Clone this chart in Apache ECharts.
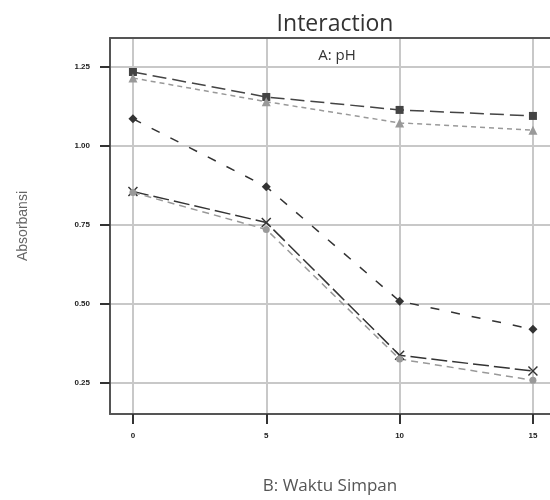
<!DOCTYPE html>
<html>
<head>
<meta charset="utf-8">
<script src="https://cdn.jsdelivr.net/npm/echarts@6/dist/echarts.min.js"></script>
<style>
  html, body { margin: 0; padding: 0; background: #fff; }
  #main { width: 550px; height: 500px; }
</style>
</head>
<body>
<div id="main"></div>
<script>
// waktu simpan (x) dan nilai absorbansi tiap level pH
var waktu = [0, 5, 10, 15];
var xTicks = [0, 5, 10, 15];
var yTicks = [0.25, 0.5, 0.75, 1.0, 1.25];

var ph1 = [1.234, 1.155, 1.114, 1.095];
var ph2 = [1.215, 1.140, 1.073, 1.050];
var ph3 = [1.086, 0.871, 0.509, 0.420];
var ph4 = [0.856, 0.758, 0.338, 0.288];
var ph5 = [0.853, 0.736, 0.326, 0.259];

function pairs(ys) {
    return waktu.map(function (x, i) { return [x, ys[i]]; });
}

var crossPath = 'path://M0,1L1,0L5,4L9,0L10,1L6,5L10,9L9,10L5,6L1,10L0,9L4,5Z';

function line(name, ys, color, dash, symbol, size) {
    return {
        name: name,
        type: 'line',
        data: pairs(ys),
        symbol: symbol,
        symbolSize: size,
        itemStyle: { color: color },
        lineStyle: { color: color, width: 1.5, type: dash },
        z: 3
    };
}

var chart = echarts.init(document.getElementById('main'));
chart.setOption({
    animation: false,
    title: [
        { text: 'Interaction', left: 330, top: 8, textAlign: 'center',
          textStyle: { fontFamily: 'Open Sans', fontSize: 23, fontWeight: 'normal', color: '#333' } },
        { text: 'A: pH', left: 332, top: 43, textAlign: 'center',
          textStyle: { fontFamily: 'Open Sans', fontSize: 15, fontWeight: 'normal', color: '#333' } }
    ],
    grid: { left: 110, top: 38, bottom: 85, right: 0 },
    xAxis: [{
        type: 'value',
        min: -0.86, max: 15.64,
        name: 'B: Waktu Simpan',
        nameLocation: 'middle',
        nameGap: 64,
        nameTextStyle: { fontFamily: 'Open Sans', fontSize: 17, color: '#555' },
        axisLine: { onZero: false, lineStyle: { color: '#555', width: 2 } },
        axisTick: { show: true, length: 10, customValues: xTicks, lineStyle: { color: '#333', width: 2 } },
        axisLabel: { customValues: xTicks, margin: 18, fontSize: 8, fontWeight: 'bold', color: '#222' },
        splitLine: { show: true, lineStyle: { color: '#c8c8c8', width: 2 } }
    }, {
        // top frame line only
        type: 'value',
        position: 'top',
        min: -0.86, max: 15.64,
        axisLine: { show: true, onZero: false, lineStyle: { color: '#555', width: 2 } },
        axisTick: { show: false },
        axisLabel: { show: false },
        splitLine: { show: false }
    }],
    yAxis: {
        type: 'value',
        min: 0.1522, max: 1.3415,
        name: 'Absorbansi',
        nameLocation: 'middle',
        nameGap: 80,
        nameTextStyle: { fontFamily: 'Liberation Sans', fontSize: 14, color: '#666' },
        axisLine: { show: true, onZero: false, lineStyle: { color: '#555', width: 2 } },
        axisTick: { show: true, length: 10, customValues: yTicks, lineStyle: { color: '#333', width: 2 } },
        axisLabel: {
            customValues: yTicks, margin: 20, fontSize: 8, fontWeight: 'bold', color: '#222',
            formatter: function (v) { return v.toFixed(2); }
        },
        splitLine: { show: true, lineStyle: { color: '#c8c8c8', width: 2 } }
    },
    series: [
        line('pH 1', ph1, '#444', [14, 6], 'rect', 8),
        line('pH 2', ph2, '#999', [5, 4], 'triangle', 9),
        line('pH 3', ph3, '#333', [9, 12], 'diamond', 9),
        line('pH 4', ph4, '#333', [16, 5], crossPath, 10),
        line('pH 5', ph5, '#999', [7, 5], 'circle', 7)
    ]
});
</script>
</body>
</html>
